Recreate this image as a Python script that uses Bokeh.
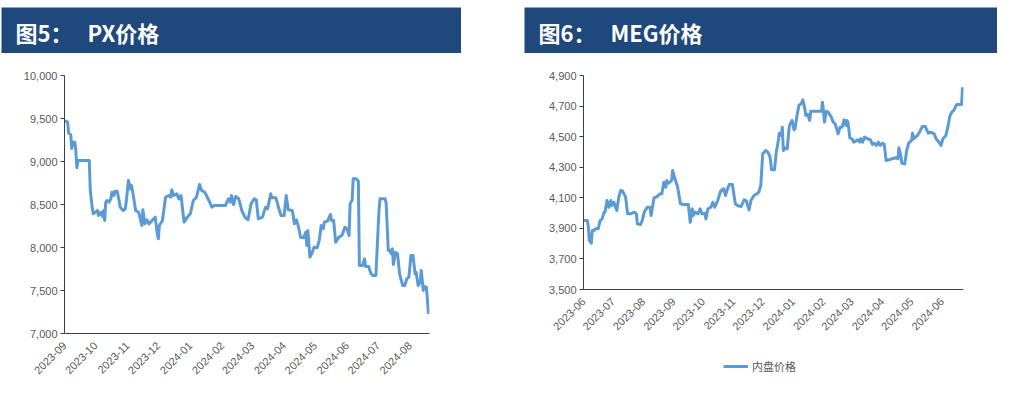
import math
import pandas as pd
from bokeh.plotting import figure
from bokeh.models import (Label, Legend, LegendItem, FixedTicker, NumeralTickFormatter,
                          DatetimeTickFormatter, MonthsTicker, Range1d)
from bokeh.embed import file_html
from bokeh.resources import INLINE

BAR = "#1F497D"
LINE = "#5B9BD5"
AX = "#595959"
TICK_FONT = "Liberation Sans Narrow, Liberation Sans, sans-serif"
CJK = "Noto Sans CJK SC"

# ---------------- data ----------------
px_title = "图5：\u00a0\u00a0\u00a0PX价格"
meg_title = "图6：\u00a0\u00a0\u00a0MEG价格"
meg_legend = "内盘价格"

px_dates = [
    "2023-09-01", "2023-09-04", "2023-09-05", "2023-09-07", "2023-09-08", "2023-09-09",
    "2023-09-11", "2023-09-12", "2023-09-13", "2023-09-14", "2023-09-25", "2023-09-26",
    "2023-09-28", "2023-09-29", "2023-10-03", "2023-10-04", "2023-10-06", "2023-10-08",
    "2023-10-09", "2023-10-10", "2023-10-11", "2023-10-12", "2023-10-14", "2023-10-16",
    "2023-10-17", "2023-10-19", "2023-10-20", "2023-10-22", "2023-10-24", "2023-10-25",
    "2023-10-28", "2023-10-30", "2023-10-31", "2023-11-02", "2023-11-04", "2023-11-05",
    "2023-11-07", "2023-11-09", "2023-11-12", "2023-11-15", "2023-11-16", "2023-11-18",
    "2023-11-20", "2023-11-22", "2023-11-25", "2023-11-28", "2023-11-30", "2023-12-01",
    "2023-12-02", "2023-12-05", "2023-12-08", "2023-12-11", "2023-12-13", "2023-12-14",
    "2023-12-16", "2023-12-19", "2023-12-21", "2023-12-23", "2023-12-25", "2023-12-26",
    "2023-12-29", "2024-01-01", "2024-01-04", "2024-01-07", "2024-01-10", "2024-01-12",
    "2024-01-15", "2024-01-19", "2024-01-22", "2024-01-24", "2024-02-04", "2024-02-06",
    "2024-02-07", "2024-02-09", "2024-02-10", "2024-02-12", "2024-02-14", "2024-02-17",
    "2024-02-20", "2024-02-23", "2024-02-26", "2024-02-29", "2024-03-03", "2024-03-05",
    "2024-03-07", "2024-03-11", "2024-03-14", "2024-03-16", "2024-03-19", "2024-03-20",
    "2024-03-24", "2024-03-27", "2024-03-29", "2024-04-01", "2024-04-03", "2024-04-05",
    "2024-04-09", "2024-04-11", "2024-04-13", "2024-04-15", "2024-04-17", "2024-04-20",
    "2024-04-22", "2024-04-23", "2024-04-24", "2024-04-26", "2024-04-28", "2024-04-30",
    "2024-05-03", "2024-05-05", "2024-05-07", "2024-05-09", "2024-05-10", "2024-05-13",
    "2024-05-16", "2024-05-17", "2024-05-19", "2024-05-21", "2024-05-24", "2024-05-27",
    "2024-05-30", "2024-06-01", "2024-06-03", "2024-06-04", "2024-06-06", "2024-06-07",
    "2024-06-10", "2024-06-12", "2024-06-13", "2024-06-16", "2024-06-18", "2024-06-19",
    "2024-06-22", "2024-06-24", "2024-06-26", "2024-06-29", "2024-07-02", "2024-07-03",
    "2024-07-08", "2024-07-09", "2024-07-11", "2024-07-12", "2024-07-14", "2024-07-15",
    "2024-07-16", "2024-07-18", "2024-07-20", "2024-07-22", "2024-07-25", "2024-07-27",
    "2024-07-29", "2024-07-31", "2024-08-02", "2024-08-04", "2024-08-06", "2024-08-07",
    "2024-08-09", "2024-08-11", "2024-08-12", "2024-08-14", "2024-08-15", "2024-08-17",
    "2024-08-19",
]
px_values = [
    9475, 9457, 9330, 9314, 9150, 9225,
    9225, 9128, 8927, 9012, 9012, 8663,
    8450, 8392, 8430, 8372, 8410, 8360,
    8430, 8314, 8527, 8547, 8527, 8566,
    8643, 8605, 8655, 8655, 8547, 8469,
    8430, 8450, 8547, 8779, 8682, 8721,
    8585, 8430, 8410, 8256, 8438, 8275,
    8322, 8275, 8314, 8353, 8159, 8101,
    8256, 8314, 8585, 8605, 8585, 8671,
    8605, 8624, 8566, 8605, 8392, 8295,
    8353, 8392, 8547, 8585, 8733, 8663,
    8643, 8547, 8469, 8488, 8488, 8539,
    8566, 8527, 8605, 8497, 8593, 8566,
    8430, 8353, 8322, 8508, 8566, 8555,
    8333, 8353, 8469, 8450, 8624, 8578,
    8578, 8450, 8372, 8372, 8605, 8438,
    8430, 8275, 8322, 8236, 8120, 8113,
    8178, 8023, 8198, 7888, 7934, 8004,
    7996, 8081, 8256, 8217, 8295, 8306,
    8384, 8314, 8314, 8062, 8120, 8140,
    8236, 8217, 8140, 8508, 8555, 8799,
    8799, 8771, 7791, 7791, 7868, 7779,
    7779, 7702, 7674, 7674, 8430, 8566,
    8566, 8508, 7965, 7973, 7927, 7985,
    7802, 7946, 7927, 7694, 7558, 7558,
    7636, 7655, 7907, 7907, 7694, 7713,
    7558, 7597, 7733, 7500, 7547, 7539,
    7229,
]

meg_dates = [
    "2023-06-01", "2023-06-05", "2023-06-06", "2023-06-07", "2023-06-09", "2023-06-10",
    "2023-06-12", "2023-06-13", "2023-06-16", "2023-06-18", "2023-06-20", "2023-06-22",
    "2023-06-23", "2023-06-25", "2023-06-27", "2023-06-29", "2023-06-30", "2023-07-02",
    "2023-07-05", "2023-07-07", "2023-07-09", "2023-07-11", "2023-07-14", "2023-07-16",
    "2023-07-19", "2023-07-23", "2023-07-25", "2023-07-26", "2023-07-29", "2023-07-31",
    "2023-08-02", "2023-08-05", "2023-08-08", "2023-08-09", "2023-08-11", "2023-08-12",
    "2023-08-15", "2023-08-18", "2023-08-20", "2023-08-22", "2023-08-24", "2023-08-25",
    "2023-08-27", "2023-08-30", "2023-08-31", "2023-09-02", "2023-09-04", "2023-09-05",
    "2023-09-08", "2023-09-11", "2023-09-16", "2023-09-18", "2023-09-20", "2023-09-21",
    "2023-09-23", "2023-09-26", "2023-09-28", "2023-09-30", "2023-10-03", "2023-10-04",
    "2023-10-06", "2023-10-09", "2023-10-11", "2023-10-13", "2023-10-16", "2023-10-19",
    "2023-10-22", "2023-10-24", "2023-10-26", "2023-10-28", "2023-10-31", "2023-11-03",
    "2023-11-05", "2023-11-09", "2023-11-12", "2023-11-14", "2023-11-17", "2023-11-19",
    "2023-11-22", "2023-11-25", "2023-11-27", "2023-11-29", "2023-12-01", "2023-12-04",
    "2023-12-06", "2023-12-08", "2023-12-09", "2023-12-10", "2023-12-13", "2023-12-15",
    "2023-12-16", "2023-12-18", "2023-12-20", "2023-12-21", "2023-12-22", "2023-12-24",
    "2023-12-26", "2023-12-28", "2023-12-29", "2023-12-31", "2024-01-02", "2024-01-03",
    "2024-01-05", "2024-01-07", "2024-01-09", "2024-01-10", "2024-01-11", "2024-01-13",
    "2024-01-14", "2024-01-16", "2024-01-18", "2024-01-19", "2024-01-22", "2024-01-30",
    "2024-01-31", "2024-02-01", "2024-02-02", "2024-02-04", "2024-02-06", "2024-02-09",
    "2024-02-11", "2024-02-13", "2024-02-16", "2024-02-18", "2024-02-20", "2024-02-22",
    "2024-02-24", "2024-02-25", "2024-02-26", "2024-02-28", "2024-03-01", "2024-03-03",
    "2024-03-07", "2024-03-09", "2024-03-10", "2024-03-12", "2024-03-14", "2024-03-17",
    "2024-03-20", "2024-03-22", "2024-03-24", "2024-03-26", "2024-03-28", "2024-03-30",
    "2024-04-01", "2024-04-03", "2024-04-05", "2024-04-08", "2024-04-11", "2024-04-15",
    "2024-04-17", "2024-04-18", "2024-04-20", "2024-04-21", "2024-04-24", "2024-04-26",
    "2024-04-28", "2024-05-01", "2024-05-02", "2024-05-03", "2024-05-07", "2024-05-09",
    "2024-05-12", "2024-05-15", "2024-05-18", "2024-05-20", "2024-05-24", "2024-05-26",
    "2024-05-29", "2024-05-31", "2024-06-02", "2024-06-05", "2024-06-07", "2024-06-09",
    "2024-06-11", "2024-06-13", "2024-06-16", "2024-06-19", "2024-06-21", "2024-06-22",
]
meg_values = [
    3951, 3951, 3908, 3821, 3803, 3886,
    3886, 3897, 3897, 3951, 3962, 4006,
    4006, 4082, 4038, 4082, 4050, 4071,
    4017, 4104, 4148, 4143, 4104, 3995,
    3995, 4006, 3995, 3930, 3925, 3951,
    4006, 4038, 4038, 3984, 4061, 4100,
    4108, 4126, 4126, 4202, 4169, 4213,
    4195, 4213, 4279, 4231, 4192, 4174,
    4061, 4056, 4056, 3940, 4028, 3984,
    4006, 3995, 4028, 3995, 3999, 3962,
    4028, 4038, 4071, 4038, 4082, 4143,
    4159, 4115, 4159, 4187, 4187, 4061,
    4050, 4043, 4087, 4082, 4021, 4082,
    4115, 4126, 4137, 4180, 4388, 4409,
    4400, 4377, 4344, 4283, 4283, 4409,
    4436, 4523, 4508, 4562, 4409, 4427,
    4420, 4562, 4584, 4606, 4545, 4551,
    4638, 4704, 4715, 4725, 4741, 4682,
    4638, 4645, 4606, 4666, 4666, 4666,
    4725, 4671, 4595, 4666, 4660, 4627,
    4595, 4584, 4519, 4562, 4562, 4610,
    4573, 4606, 4595, 4492, 4486, 4464,
    4479, 4464, 4486, 4464, 4497, 4486,
    4479, 4449, 4457, 4442, 4464, 4442,
    4457, 4453, 4344, 4349, 4355, 4362,
    4355, 4427, 4377, 4326, 4322, 4409,
    4457, 4475, 4523, 4486, 4508, 4529,
    4566, 4566, 4523, 4529, 4519, 4486,
    4464, 4442, 4486, 4508, 4562, 4632,
    4660, 4671, 4710, 4710, 4710, 4823,
]

px_range = ("2023-09-01", "2024-08-20")
meg_range = ("2023-06-01", "2024-06-23")
px_yticks = [7000, 7500, 8000, 8500, 9000, 9500, 10000]
meg_yticks = [3500, 3700, 3900, 4100, 4300, 4500, 4700, 4900]


# ---------------- helpers ----------------
def place(left, top):
    return {"position": "absolute", "left": f"{left}px", "top": f"{top}px"}


def title_bar(text, left, top, width, text_x):
    p = figure(width=width, height=46, x_range=(0, 1), y_range=(0, 1),
               x_axis_type=None, y_axis_type=None, toolbar_location=None,
               output_backend="svg", min_border=0,
               background_fill_color=BAR, border_fill_color=BAR,
               outline_line_color=None, styles=place(left, top))
    p.grid.visible = False
    p.add_layout(Label(x=text_x, y=22, x_units="screen", y_units="screen",
                       text=text, text_color="white", text_font=CJK,
                       text_font_style="bold", text_font_size="22px",
                       text_baseline="middle"))
    return p


def chart(dates, vals, xr, yr, yticks, left, top, width, height, bl, br, bt, bb):
    p = figure(width=width, height=height, x_axis_type="datetime",
               x_range=Range1d(pd.Timestamp(xr[0]), pd.Timestamp(xr[1])),
               y_range=Range1d(yr[0], yr[1]),
               toolbar_location=None, output_backend="svg",
               min_border_left=bl, min_border_right=br,
               min_border_top=bt, min_border_bottom=bb,
               background_fill_color="white", border_fill_color="white",
               outline_line_color=None, styles=place(left, top))
    p.grid.visible = False
    r = p.line(x=pd.to_datetime(dates), y=vals, line_color=LINE, line_width=3,
               line_join="round")
    xa = p.xaxis[0]
    xa.ticker = MonthsTicker(months=list(range(12)))
    xa.formatter = DatetimeTickFormatter(months="%Y-%m", days="%Y-%m",
                                         years="%Y-%m")
    xa.major_label_orientation = math.pi / 4
    xa.major_tick_line_color = None
    xa.minor_tick_line_color = None
    xa.axis_line_color = "#404040"
    xa.axis_line_width = 1.2
    xa.major_label_text_font = TICK_FONT
    xa.major_label_text_font_size = "11px"
    xa.major_label_text_color = AX
    xa.major_label_standoff = 4
    ya = p.yaxis[0]
    ya.ticker = FixedTicker(ticks=yticks)
    ya.formatter = NumeralTickFormatter(format="0,0")
    ya.major_tick_in = 0
    ya.major_tick_out = 4
    ya.major_tick_line_color = "#404040"
    ya.minor_tick_line_color = None
    ya.axis_line_color = "#404040"
    ya.major_label_text_font = TICK_FONT
    ya.major_label_text_font_size = "11px"
    ya.major_label_text_color = AX
    ya.major_label_standoff = 3
    return p, r


# ---------------- left panel ----------------
t1 = title_bar(px_title, 1, 7, 460, 14)
c1, _ = chart(px_dates, px_values, px_range, (7000, 10000), px_yticks,
              0, 53, 461, 340, 64, 32, 22, 60)

# ---------------- right panel ----------------
t2 = title_bar(meg_title, 524, 7, 473, 14)
c2, r2 = chart(meg_dates, meg_values, meg_range, (3500, 4900), meg_yticks,
               520, 53, 477, 340, 63, 34, 22, 104)

# legend box for the right chart (a small figure holding only the key)
lg = figure(width=110, height=20, x_range=(0, 1), y_range=(0, 1),
            x_axis_type=None, y_axis_type=None, toolbar_location=None,
            output_backend="svg", min_border=0, outline_line_color=None,
            background_fill_color="white", border_fill_color="white",
            styles=place(723, 358))
lg.grid.visible = False
# one-point line: draws nothing itself, only supplies the legend key style
key = lg.line(x=[5], y=[5], line_color=LINE, line_width=3)
leg = Legend(items=[LegendItem(label=meg_legend, renderers=[key])],
             location="top_left", orientation="horizontal",
             border_line_color=None, background_fill_alpha=0,
             label_text_font=CJK, label_text_font_size="11px",
             label_text_color=AX, glyph_width=25, glyph_height=14,
             label_height=14, label_standoff=4, padding=0, margin=0)
lg.add_layout(leg)

open("out.html", "w").write(file_html([t1, c1, t2, c2, lg], INLINE))
